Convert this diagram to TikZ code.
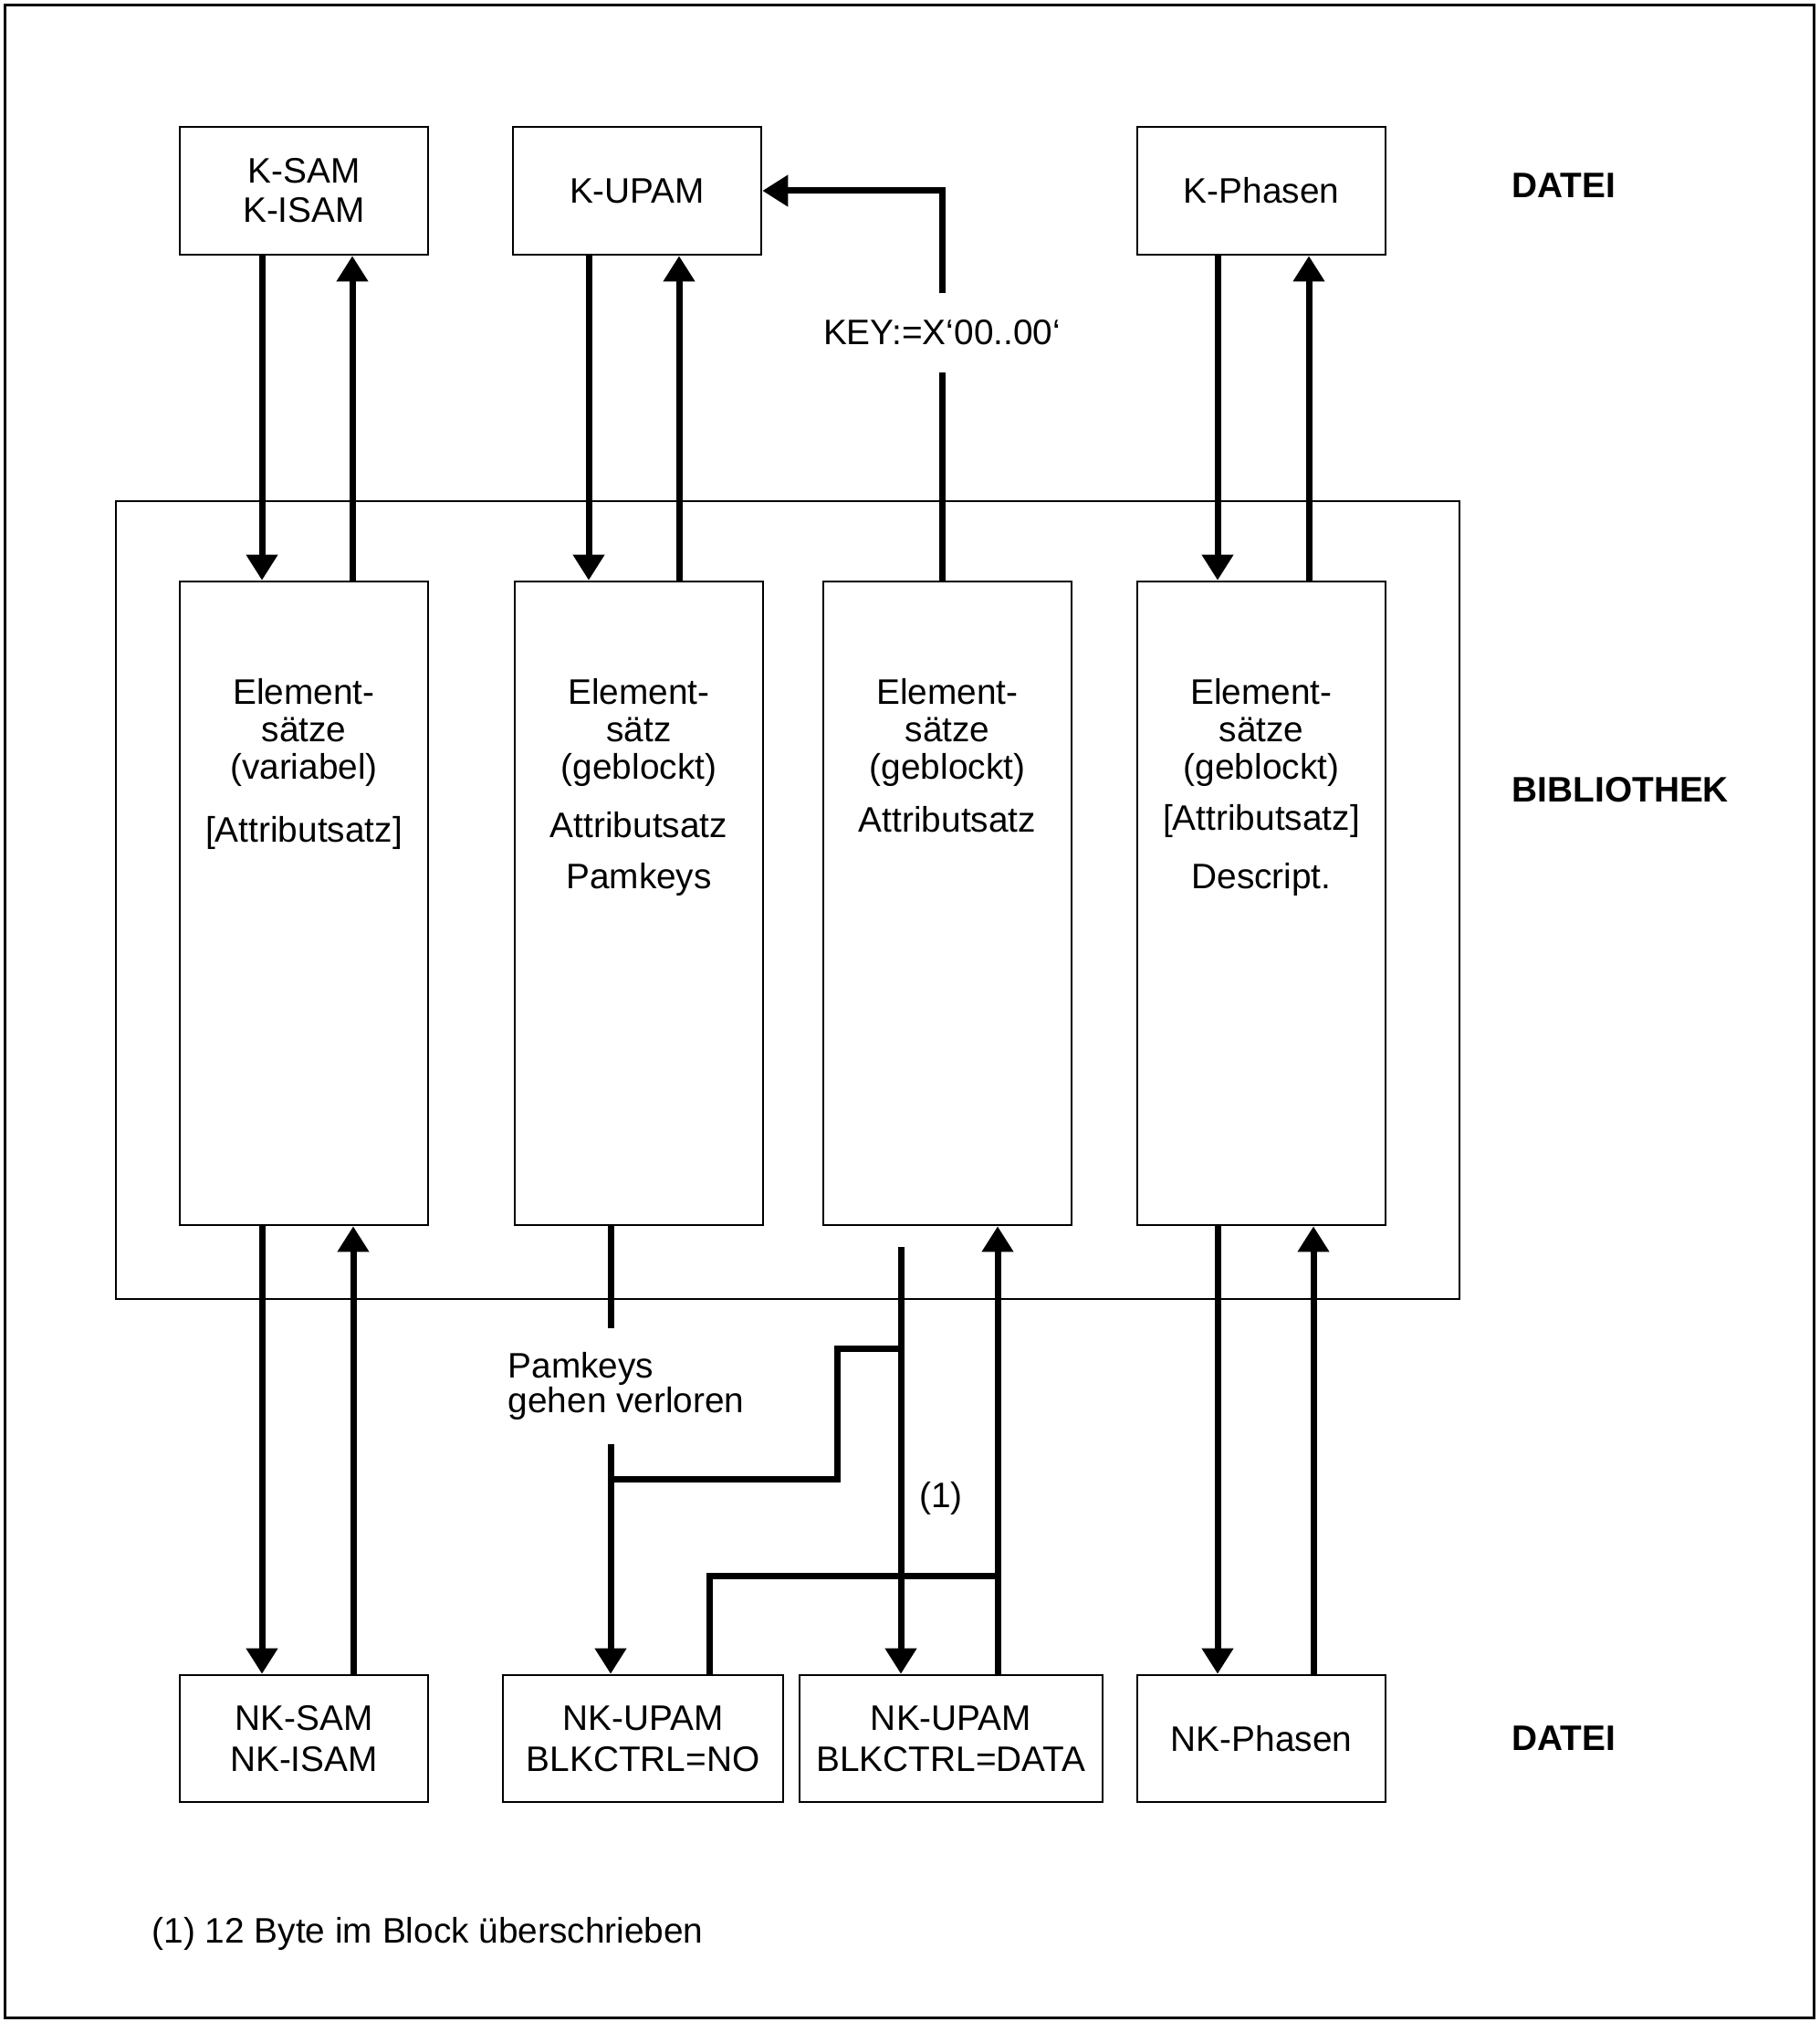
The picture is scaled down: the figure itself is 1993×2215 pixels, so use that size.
\documentclass[tikz,border=0pt]{standalone}
\usepackage{fontspec}
\setmainfont{Liberation Sans}
\usetikzlibrary{arrows.meta,positioning}

\begin{document}
\begin{tikzpicture}[
  x=0.25pt, y=-0.25pt,
  every node/.style={font=\fontsize{9.7}{10.75}\selectfont, inner sep=0pt},
  box/.style={draw, line width=0.65pt, minimum width=68pt, minimum height=35pt, align=center},
  nkbox/.style={box, minimum height=34.75pt, font=\fontsize{9.7}{11.25}\selectfont},
  column/.style={draw, line width=0.65pt, minimum width=68pt, minimum height=176.25pt},
  coltext/.style={align=center, font=\fontsize{9.7}{10.25}\selectfont},
  side/.style={anchor=west, font=\fontsize{9.7}{10.75}\selectfont\bfseries},
  arr/.style={line width=1.75pt, -{Triangle[length=7pt,width=8.25pt]}},
  wire/.style={line width=1.75pt},
  ]
  \useasboundingbox (0,0) rectangle (1993,2215);
  \draw[line width=0.75pt] (5,6) rectangle (1987,2210);
  % bibliothek frame
  \draw[line width=0.65pt] (127,549) rectangle (1599,1423);

  % files on top
  \node[box] (ksam) at (333,209) {K-SAM\\K-ISAM};
  \node[box] (kupam) at (698,209) {K-UPAM};
  \node[box] (kphasen) at (1382,209) {K-Phasen};

  % element columns
  \node[column] (el1) at (333,989.5) {};
  \node[column] (el2) at (700,989.5) {};
  \node[column] (el3) at (1038,989.5) {};
  \node[column] (el4) at (1382,989.5) {};
  \node[coltext, below=26.75pt of el1.north] (t1)
    {Element-\\s\"atze\\(variabel)\\[7pt][Attributsatz]};
  \node[coltext, below=26.75pt of el2.north] (t2)
    {Element-\\s\"atz\\(geblockt)\\[5.75pt]Attributsatz\\[3.75pt]Pamkeys};
  \node[coltext, below=26.75pt of el3.north] (t3)
    {Element-\\s\"atze\\(geblockt)\\[4.25pt]Attributsatz};
  \node[coltext, below=26.75pt of el4.north] (t4)
    {Element-\\s\"atze\\(geblockt)\\[3.75pt][Attributsatz]\\[5.75pt]Descript.};

  % files at the bottom
  \node[nkbox] (nksam) at (333,1904.5) {NK-SAM\\NK-ISAM};
  \node[nkbox, minimum width=76.75pt] (nkno) at (704.5,1904.5) {NK-UPAM\\BLKCTRL=NO};
  \node[nkbox, minimum width=83pt] (nkdata) at (1042,1904.5) {NK-UPAM\\BLKCTRL=DATA};
  \node[nkbox] (nkphasen) at (1382,1904.5) {NK-Phasen};

  \node[side] (datei1) at (1656,203) {DATEI};
  \node[side] (bib) at (1656,865) {BIBLIOTHEK};
  \node[side] (datei2) at (1656,1904) {DATEI};

  % straight up/down pairs
  \foreach \s/\d/\p/\q in {ksam/el1/287/386, kupam/el2/645/744, kphasen/el4/1334/1434}{
    \draw[arr] (\s.south -| \p,0) -- (\d.north -| \p,0);
    \draw[arr] (\d.north -| \q,0) -- (\s.south -| \q,0);
  }
  \foreach \s/\d/\p/\q in {el1/nksam/287/387, el4/nkphasen/1334/1439}{
    \draw[arr] (\s.south -| \p,0) -- (\d.north -| \p,0);
    \draw[arr] (\d.north -| \q,0) -- (\s.south -| \q,0);
  }

  % key reset
  \node[minimum height=21.25pt] (key) at (1032,364.5) {KEY:=X‘00..00‘};
  \draw[wire] (el3.north -| key.south) -- (key.south);
  \draw[arr] (key.north) |- (kupam.east);

  % pamkeys lost
  \coordinate (c2) at (669,0);
  \coordinate (c3d) at (987,0);
  \coordinate (c3u) at (1093,0);
  \node[anchor=west, align=left, minimum height=31.25pt,
    font=\fontsize{9.7}{9.5}\selectfont] (lost) at (556,1518.5) {Pamkeys\\gehen verloren};
  \draw[wire] (el2.south -| c2) -- (lost.north -| c2);
  \draw[arr] (lost.south -| c2) -- (nkno.north -| c2);
  \coordinate (j1) at (669,1620);
  \coordinate (j2) at (917,1477);
  \draw[wire] (j1) -| (j2) -- (j2 -| c3d);
  \draw[arr] (c3d |- 0,1366) -- (c3d |- nkdata.north);
  \draw[wire] (nkno.north -| 777,0) |- (c3u |- 0,1726);
  \draw[arr] (c3u |- nkdata.north) -- (c3u |- el3.south);
  \node (mark) at (1031,1641) {(1)};

  \node[anchor=west] (note) at (166,2118) {(1) 12 Byte im Block \"uberschrieben};
\end{tikzpicture}
\end{document}
